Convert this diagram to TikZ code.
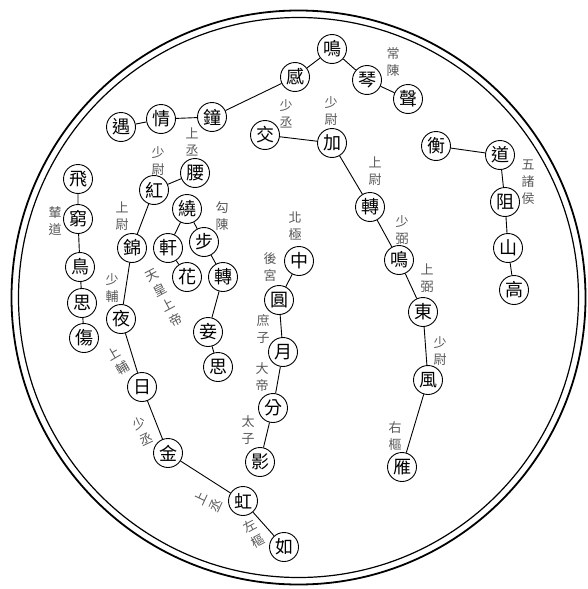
\documentclass[tikz,border=0pt]{standalone}
\usepackage{fontspec}
\newfontfamily\cjk{Noto Sans CJK TC}
\begin{document}
\begin{tikzpicture}[x=1pt,y=-1pt,
  star/.style={circle,draw,line width=0.9pt,minimum size=29pt,inner sep=0pt,fill=white,font=\cjk\fontsize{18}{18}\selectfont},
  lbl/.style={font=\cjk\fontsize{13}{17}\selectfont,text=black!65,align=center,inner sep=0pt},
  link/.style={line width=0.9pt}]
\useasboundingbox (0,0) rectangle (587,589);
\fill[white] (0,0) rectangle (587,589);
\draw[line width=1.8pt] (298.5,297.5) circle (287pt);
\draw[line width=1.2pt] (298.5,297.5) circle (280pt);
% top chain
\node[star] (ming) at (332,49) {鳴};
\node[star] (gan) at (295,77) {感};
\node[star] (qin) at (367,80) {琴};
\node[star] (sheng) at (408,99) {聲};
\node[star] (zhong) at (212,117) {鐘};
\node[star] (qing) at (161,119) {情};
\node[star] (yu) at (121,127) {遇};
% jiao chain
\node[star] (jiao) at (265,135) {交};
\node[star] (jia) at (332,143) {加};
\node[star] (zhuanR) at (370,207) {轉};
\node[star] (mingR) at (399,260) {鳴};
\node[star] (dong) at (423,312) {東};
\node[star] (feng) at (428,380) {風};
\node[star] (yan) at (402,467) {雁};
% heng chain
\node[star] (heng) at (436,146) {衡};
\node[star] (dao) at (500,155) {道};
\node[star] (zu) at (505,202) {阻};
\node[star] (shan) at (508,248) {山};
\node[star] (gao) at (514,290) {高};
% hong chain
\node[star] (yao) at (195,173) {腰};
\node[star] (hong) at (154,190) {紅};
\node[star] (jin) at (132,248) {錦};
\node[star] (ye) at (121,319) {夜};
\node[star] (ri) at (142,387) {日};
\node[star] (jinG) at (168,453) {金};
\node[star] (hongR) at (243,501) {虹};
\node[star] (ru) at (284,547) {如};
% rao chain
\node[star] (rao) at (187,209) {繞};
\node[star] (xuan) at (168,248) {軒};
\node[star] (hua) at (187,277) {花};
\node[star] (bu) at (204,242) {步};
\node[star] (zhuanM) at (223,277) {轉};
\node[star] (qie) at (208,332) {妾};
\node[star] (siM) at (218,367) {思};
% fei chain
\node[star] (fei) at (78,179) {飛};
\node[star] (qiong) at (78,219) {窮};
\node[star] (niao) at (80,267) {鳥};
\node[star] (siL) at (82,303) {思};
\node[star] (shang) at (84,338) {傷};
% zhong chain
\node[star] (zhongC) at (299,261) {中};
\node[star] (yuan) at (279,300) {圓};
\node[star] (yue) at (283,352) {月};
\node[star] (fen) at (273,408) {分};
\node[star] (ying) at (260,462) {影};
% links
\draw[link] (ming) -- (gan) (ming) -- (qin) (qin) -- (sheng) (gan) -- (zhong) (zhong) -- (qing) (qing) -- (yu);
\draw[link] (jiao) -- (jia) (jia) -- (zhuanR) (zhuanR) -- (mingR) (mingR) -- (dong) (dong) -- (feng) (feng) -- (yan);
\draw[link] (heng) -- (dao) (dao) -- (zu) (zu) -- (shan) (shan) -- (gao);
\draw[link] (hong) -- (yao) (hong) -- (jin) (jin) -- (ye) (ye) -- (ri) (ri) -- (jinG) (jinG) -- (hongR) (hongR) -- (ru);
\draw[link] (rao) -- (xuan) (xuan) -- (hua) (rao) -- (bu) (bu) -- (zhuanM) (zhuanM) -- (qie) (qie) -- (siM);
\draw[link] (fei) -- (qiong) (qiong) -- (niao) (niao) -- (siL) (siL) -- (shang);
\draw[link] (zhongC) -- (yuan) (yuan) -- (yue) (yue) -- (fen) (fen) -- (ying);
% labels
\node[lbl] (l1) at (393,62) {常\\陳};
\node[lbl] (l2) at (286,114) {少\\丞};
\node[lbl] (l3) at (331,111) {少\\尉};
\node[lbl] (l4) at (192,142) {上\\丞};
\node[lbl] (l5) at (158,161) {少\\尉};
\node[lbl] (l6) at (528,182) {五\\諸\\侯};
\node[lbl] (l7) at (375,171) {上\\尉};
\node[lbl] (l8) at (55,221) {輦\\道};
\node[lbl] (l9) at (122,216) {上\\尉};
\node[lbl] (l10) at (222,216) {勾\\陳};
\node[lbl] (l11) at (295,226) {北\\極};
\node[lbl] (l12) at (402,230) {少\\弼};
\node[lbl] (l13) at (270,267) {後\\宮};
\node[lbl] (l14) at (427,278) {上\\弼};
\node[lbl] (l15) at (112,288) {少\\輔};
\node[lbl,rotate=28] (l16) at (164,298) {天\\皇\\上\\帝};
\node[lbl] (l17) at (263,329) {庶\\子};
\node[lbl] (l18) at (440,351) {少\\尉};
\node[lbl] (l19) at (262,377) {大\\帝};
\node[lbl,rotate=30] (l20) at (118,361) {上\\輔};
\node[lbl] (l21) at (248,430) {太\\子};
\node[lbl,rotate=25] (l22) at (143,431) {少\\丞};
\node[lbl] (l23) at (395,436) {右\\樞};
\node[lbl,rotate=65] (l24) at (208,502) {上\\丞};
\node[lbl,rotate=28] (l25) at (254,534) {左\\樞};
\end{tikzpicture}
\end{document}
